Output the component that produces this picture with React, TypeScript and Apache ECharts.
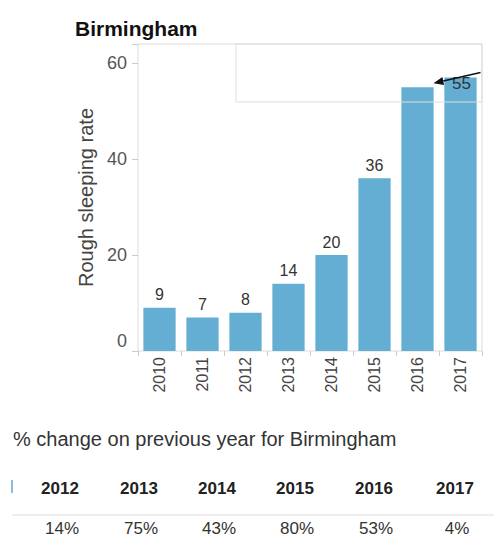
import React, { useEffect, useRef } from "react";
import * as echarts from "echarts";

const years = ["2010", "2011", "2012", "2013", "2014", "2015", "2016", "2017"];
const rates = [9, 7, 8, 14, 20, 36, 55, 57];
const showLabel = [true, true, true, true, true, true, false, false];
const tableYears = ["2012", "2013", "2014", "2015", "2016", "2017"];
const pctChange = ["14%", "75%", "43%", "80%", "53%", "4%"];
const annotationText = "55";
const yTicks = [0, 20, 40, 60];

const FONT = "Liberation Sans, Arial, sans-serif";

export default function App() {
  const ref = useRef<HTMLDivElement>(null);
  useEffect(() => {
    if (!ref.current) return;
    const chart = echarts.init(ref.current, null, { renderer: "svg" });
    const option: any = {
      animation: false,
      textStyle: { fontFamily: FONT },
      title: {
        text: "Birmingham",
        left: 70,
        top: 13,
        textStyle: { fontFamily: FONT, fontSize: 21, fontWeight: "bold", color: "#111" },
      },
      grid: {
        left: 138,
        right: 12,
        top: 44,
        bottom: 189,
        show: true,
        borderColor: "#dddddd",
        borderWidth: 1,
      },
      xAxis: {
        type: "category",
        data: years,
        axisLine: { show: false },
        axisTick: { show: true, length: 5, lineStyle: { color: "#cccccc" } },
        axisLabel: {
          rotate: 90,
          fontSize: 16,
          color: "#444",
          margin: 6,
          fontFamily: FONT,
        },
      },
      yAxis: {
        type: "value",
        min: 0,
        max: 64,
        interval: 20,
        name: "Rough sleeping rate",
        nameLocation: "middle",
        nameGap: 38,
        nameTextStyle: { fontSize: 20, color: "#444", fontFamily: FONT },
        axisLine: { show: false },
        axisTick: { show: true, length: 6, lineStyle: { color: "#cccccc" } },
        splitLine: { show: false },
        axisLabel: {
          fontSize: 18,
          color: "#555",
          margin: 11,
          fontFamily: FONT,
          formatter: (v: number) =>
            v === 0 ? "{zero|0}" : yTicks.indexOf(v) >= 0 ? String(v) : "",
          rich: {
            zero: { fontSize: 18, color: "#555", fontFamily: FONT, padding: [0, 0, 20, 0] },
          },
        },
      },
      series: [
        {
          type: "bar",
          barCategoryGap: "25%",
          itemStyle: { color: "#63aed2" },
          data: rates.map((v, i) => ({
            value: v,
            label: {
              show: showLabel[i],
              position: "top",
              distance: 5,
              fontSize: 16,
              color: "#333",
              fontFamily: FONT,
            },
          })),
        },
      ],
    };
    chart.setOption(option);

    const p16 = chart.convertToPixel({ xAxisIndex: 0, yAxisIndex: 0 }, [years[6], rates[6]]) as number[];
    const p17 = chart.convertToPixel({ xAxisIndex: 0, yAxisIndex: 0 }, [years[7], rates[7]]) as number[];
    const tip = [p16[0] + 16, p16[1] - 4];
    const start = [p17[0] + 20, p17[1] - 5];
    const dx = start[0] - tip[0];
    const dy = start[1] - tip[1];
    const len = Math.sqrt(dx * dx + dy * dy);
    const ux = dx / len;
    const uy = dy / len;
    const hl = 10;
    const hw = 4;
    const base = [tip[0] + ux * hl, tip[1] + uy * hl];
    const head = [
      tip,
      [base[0] - uy * hw, base[1] + ux * hw],
      [base[0] + uy * hw, base[1] - ux * hw],
    ];

    const colX = [60, 139, 217, 295, 374, 455];
    const graphics: any[] = [
      {
        type: "rect",
        shape: { x: 236, y: 44, width: 246, height: 58 },
        style: { fill: "none", stroke: "#dddddd", lineWidth: 1 },
        z: 10,
      },
      {
        type: "line",
        shape: { x1: start[0], y1: start[1], x2: base[0], y2: base[1] },
        style: { stroke: "#111", lineWidth: 1.5 },
        z: 12,
      },
      {
        type: "polygon",
        shape: { points: head },
        style: { fill: "#111" },
        z: 12,
      },
      {
        type: "text",
        x: p17[0] + 1,
        y: p17[1] + 6,
        style: {
          text: annotationText,
          fontSize: 17,
          fontFamily: FONT,
          fill: "#333",
          textAlign: "center",
          textVerticalAlign: "middle",
        },
        z: 11,
      },
      {
        type: "text",
        x: 13,
        y: 439,
        style: {
          text: "% change on previous year for Birmingham",
          fontSize: 20,
          fontFamily: FONT,
          fill: "#333",
          textVerticalAlign: "middle",
        },
      },
      {
        type: "rect",
        shape: { x: 11, y: 480, width: 2, height: 13 },
        style: { fill: "#8cbbdf" },
      },
      {
        type: "line",
        shape: { x1: 12, y1: 515, x2: 494, y2: 515 },
        style: { stroke: "#dddddd", lineWidth: 1 },
      },
    ];
    tableYears.forEach((y, i) => {
      graphics.push({
        type: "text",
        x: colX[i],
        y: 488,
        style: {
          text: y,
          fontSize: 17,
          fontWeight: "bold",
          fontFamily: FONT,
          fill: "#222",
          textAlign: "center",
          textVerticalAlign: "middle",
        },
      });
      graphics.push({
        type: "text",
        x: colX[i] + 2,
        y: 528,
        style: {
          text: pctChange[i],
          fontSize: 17,
          fontFamily: FONT,
          fill: "#333",
          textAlign: "center",
          textVerticalAlign: "middle",
        },
      });
    });
    chart.setOption({ graphic: graphics });

    return () => chart.dispose();
  }, []);
  return (
    <div
      ref={ref}
      style={{ position: "fixed", left: 0, top: 0, width: 494, height: 540, background: "#fff" }}
    />
  );
}
